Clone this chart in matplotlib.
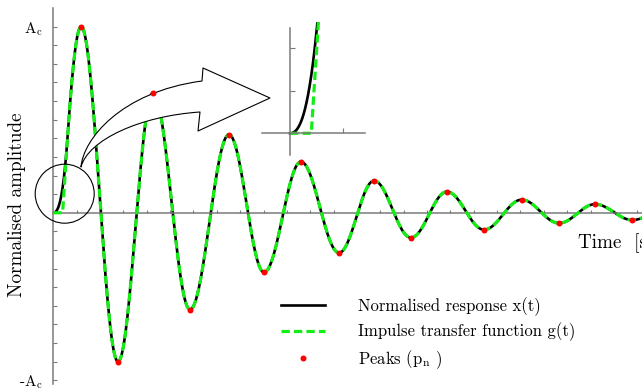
import matplotlib
matplotlib.use('Agg')
import matplotlib.pyplot as plt
import numpy as np
from matplotlib.path import Path
from matplotlib.patches import PathPatch, Ellipse

plt.rcParams['font.family'] = 'serif'
plt.rcParams['font.serif'] = ['cmr10', 'DejaVu Serif']
plt.rcParams['mathtext.fontset'] = 'cm'
plt.rcParams['axes.unicode_minus'] = False

# Peaks (time [s], normalised amplitude)
peak_t = [1.19, 2.77, 4.27, 5.85, 7.52, 9.02, 10.60, 12.23, 13.73, 15.31,
          16.85, 18.44, 20.05, 21.65, 23.19, 24.79]
peak_v = [1.00, -0.80, 0.645, -0.52, 0.42, -0.32, 0.274, -0.215, 0.172, -0.134,
          0.113, -0.091, 0.070, -0.056, 0.046, -0.039]
# next extreme, just outside the frame (curve keeps going past the edge)
tail_t = 26.35
tail_v = 0.031

# start of the impulse transfer function and point where x(t) joins it
g_start = 0.40
x_join = 0.62

ytick_labels = {1.0: r'A$_\mathrm{c}$', -0.9: r'-A$_\mathrm{c}$'}

legend_labels = ['Normalised response x(t)',
                 'Impulse transfer function g(t)',
                 r'Peaks (p$_\mathrm{n}$ )']


def wave(t, ext_t, ext_v, t0):
    # quarter sine up to the first peak, half cosines between extremes
    y = np.zeros_like(t)
    m = (t >= t0) & (t < ext_t[0])
    y[m] = ext_v[0] * np.sin(np.pi / 2 * (t[m] - t0) / (ext_t[0] - t0))
    for i in range(len(ext_t) - 1):
        a, b = ext_t[i], ext_t[i + 1]
        m = (t >= a) & (t <= b)
        mid = (ext_v[i] + ext_v[i + 1]) / 2
        half = (ext_v[i] - ext_v[i + 1]) / 2
        y[m] = mid + half * np.cos(np.pi * (t[m] - a) / (b - a))
    return y


ext_t = np.array(peak_t + [tail_t])
ext_v = np.array(peak_v + [tail_v])
t = np.linspace(0, tail_t, 6000)
g = wave(t, ext_t, ext_v, g_start)

# x(t): smooth start from rest, joining g(t) at x_join
x = g.copy()
gj = np.interp(x_join, t, g)
dgj = np.interp(x_join, t, np.gradient(g, t))
T = x_join
b3 = (dgj * T - 2 * gj) / T**3
a2 = (gj - b3 * T**3) / T**2
m = t < x_join
x[m] = a2 * t[m]**2 + b3 * t[m]**3

W, H = 642, 390
fig = plt.figure(figsize=(W / 100, H / 100), dpi=100)


def fp(px, py):
    return px / W, 1 - py / H


gray = '#7a7a7a'
green = '#14ee14'

# main axes
ax = fig.add_axes([53.3 / W, 1 - 384 / H, 1 - 53.3 / W, (384 - 8) / H])
ax.set_xlim(0, (W - 53.3) / 23.36)
ax.set_ylim(-0.92, 1.10)

ax.plot(t, x, color='black', lw=1.9, zorder=2, label=legend_labels[0])
ax.plot(t, g, color=green, lw=2.3, dashes=(2.6, 1.3), zorder=3, label=legend_labels[1])
ax.plot(peak_t, peak_v, 'o', color='red', ms=4.3, mec='none', zorder=7, label=legend_labels[2])

for s in ['top', 'right']:
    ax.spines[s].set_visible(False)
ax.spines['bottom'].set_position(('data', 0))
ax.spines['left'].set_color(gray)
ax.spines['bottom'].set_color(gray)
ax.spines['left'].set_linewidth(1.1)
ax.spines['bottom'].set_linewidth(1.1)

yt = np.round(np.arange(-0.9, 1.01, 0.1), 2)
ax.set_yticks(yt)
ax.set_yticklabels([ytick_labels.get(v, '') for v in yt], fontsize=11)
ax.set_xticks(np.arange(1, 26))
ax.set_xticklabels([])
ax.tick_params(axis='y', direction='in', length=3, color=gray, pad=8)
ax.tick_params(axis='x', direction='in', length=2.5, color=gray)

fig.text(17 / W, 1 - 205 / H, 'Normalised amplitude', rotation=90,
         ha='center', va='center', fontsize=13.8)
fig.text(578 / W, 1 - 243 / H, 'Time  [s]', ha='left', va='center', fontsize=13.8)

# circle around the start of the response
circ = Ellipse(fp(64.7, 193.7), 59 / W, 59 / H, transform=fig.transFigure,
               fill=False, ec='black', lw=0.8, zorder=4, clip_on=False)
ax.add_patch(circ)

# hollow curved arrow from the circle to the inset
P = Path.MOVETO
C = Path.CURVE4
L = Path.LINETO
pts = [((81, 167), P),
       ((83, 140), C), ((120, 92), C), ((202, 81), C),
       ((203, 68), L), ((270, 98), L), ((198, 131), L), ((200, 112), L),
       ((140, 116), C), ((88, 140), C), ((81, 167), C),
       ((81, 167), Path.CLOSEPOLY)]
verts = [fp(*p) for p, _ in pts]
codes = [c for _, c in pts]
arrow = PathPatch(Path(verts, codes), transform=fig.transFigure, fc='white',
                  ec='black', lw=0.8, joinstyle='round', zorder=5, clip_on=False)
ax.add_patch(arrow)

leg = ax.legend(loc='upper left', bbox_to_anchor=fp(281, 297), bbox_transform=fig.transFigure,
                frameon=False, fontsize=12, handlelength=2.65, handletextpad=2.0,
                labelspacing=0.42, borderpad=0, borderaxespad=0)

# inset: zoom on the start
ins = fig.add_axes([261.7 / W, 1 - 155 / H, 103.3 / W, (155 - 22) / H])
ins.patch.set_alpha(0)
ins.set_xlim(-28.3 / 53.3, 75 / 53.3)
ins.set_ylim(-21.7 / 427, 111.3 / 427)
ins.plot(t, x, color='black', lw=1.9)
ins.plot(t, g, color=green, lw=2.3, dashes=(2.6, 1.3))
for s in ['top', 'right']:
    ins.spines[s].set_visible(False)
ins.spines['left'].set_position(('data', 0))
ins.spines['bottom'].set_position(('data', 0))
ins.spines['left'].set_bounds(-21.7 / 427, 105 / 427)
for s in ['left', 'bottom']:
    ins.spines[s].set_color(gray)
    ins.spines[s].set_linewidth(1.1)
ins.set_xticks([1])
ins.set_yticks([0.1, 0.2])
ins.set_xticklabels([])
ins.set_yticklabels([])
ins.tick_params(direction='in', length=3.5, color=gray)

fig.savefig('out.png', dpi=100)
